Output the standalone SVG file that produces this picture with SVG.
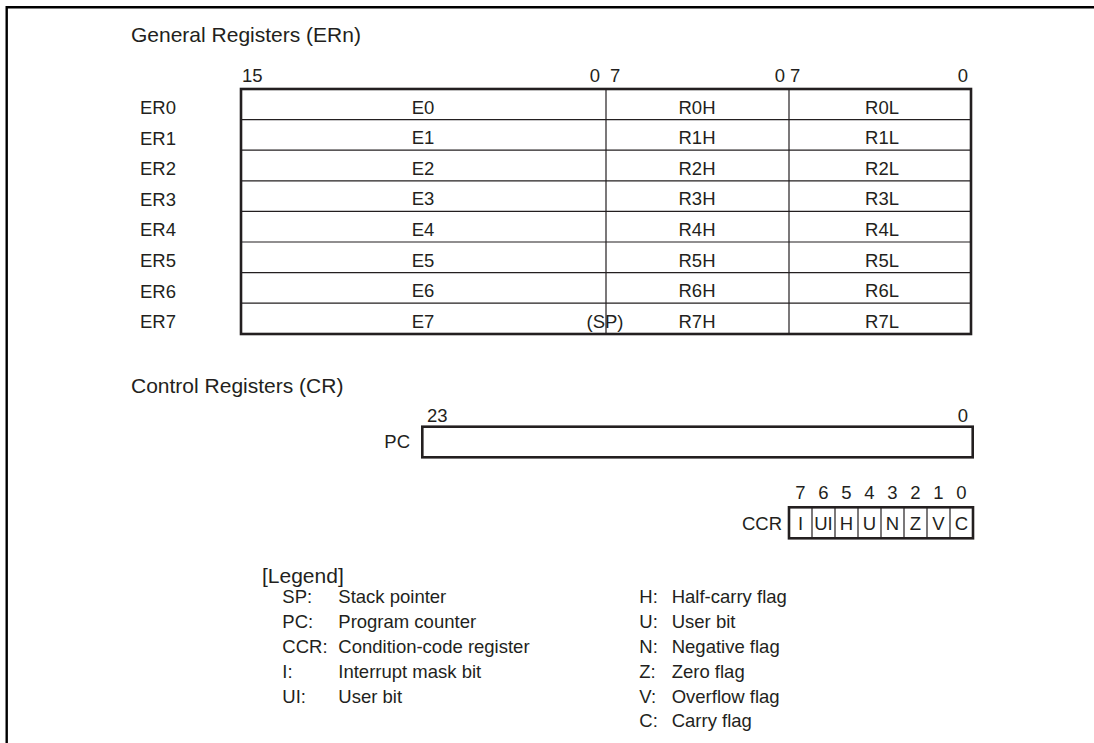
<svg xmlns="http://www.w3.org/2000/svg" width="1094" height="743" viewBox="0 0 1094 743">
<style>
text{font-family:"Liberation Sans",Arial,sans-serif;font-size:18.5px;fill:#231f20}
.t{font-size:21px}
.m{text-anchor:middle}
.e{text-anchor:end}
.thick{fill:none;stroke:#231f20;stroke-width:2.6}
.thin{fill:none;stroke:#231f20;stroke-width:1.2}
.frame{fill:none;stroke:#000;stroke-width:2.4}
</style>
<rect width="1094" height="743" fill="#fff"/>
<g id="frame"><polyline class="frame" points="6.7,743 6.7,7.3 1094,7.3"/></g>

<g id="general-title"><text class="t" x="131" y="41.5">General Registers (ERn)</text></g>
<g id="bit-labels-gr">
<text x="242" y="82">15</text>
<text x="600" y="82" class="e">0</text>
<text x="610" y="82">7</text>
<text x="785" y="82" class="e">0</text>
<text x="790" y="82">7</text>
<text x="968" y="82" class="e">0</text>
</g>

<g id="er-table">
<rect class="thick" x="241" y="89" width="730" height="245"/>
<g class="thin">
<line x1="241" y1="119.6" x2="971" y2="119.6"/>
<line x1="241" y1="150.2" x2="971" y2="150.2"/>
<line x1="241" y1="180.8" x2="971" y2="180.8"/>
<line x1="241" y1="211.4" x2="971" y2="211.4"/>
<line x1="241" y1="242" x2="971" y2="242"/>
<line x1="241" y1="272.6" x2="971" y2="272.6"/>
<line x1="241" y1="303.2" x2="971" y2="303.2"/>
<line x1="606" y1="89" x2="606" y2="334"/>
<line x1="789" y1="89" x2="789" y2="334"/>
</g>
</g>

<g id="er-rows">
<g id="ER0"><text x="140" y="114">ER0</text><text class="m" x="423" y="113.5">E0</text><text class="m" x="697" y="113.5">R0H</text><text class="m" x="882" y="113.5">R0L</text></g>
<g id="ER1"><text x="140" y="144.6">ER1</text><text class="m" x="423" y="144.1">E1</text><text class="m" x="697" y="144.1">R1H</text><text class="m" x="882" y="144.1">R1L</text></g>
<g id="ER2"><text x="140" y="175.2">ER2</text><text class="m" x="423" y="174.7">E2</text><text class="m" x="697" y="174.7">R2H</text><text class="m" x="882" y="174.7">R2L</text></g>
<g id="ER3"><text x="140" y="205.8">ER3</text><text class="m" x="423" y="205.3">E3</text><text class="m" x="697" y="205.3">R3H</text><text class="m" x="882" y="205.3">R3L</text></g>
<g id="ER4"><text x="140" y="236.4">ER4</text><text class="m" x="423" y="235.9">E4</text><text class="m" x="697" y="235.9">R4H</text><text class="m" x="882" y="235.9">R4L</text></g>
<g id="ER5"><text x="140" y="267">ER5</text><text class="m" x="423" y="266.5">E5</text><text class="m" x="697" y="266.5">R5H</text><text class="m" x="882" y="266.5">R5L</text></g>
<g id="ER6"><text x="140" y="297.6">ER6</text><text class="m" x="423" y="297.1">E6</text><text class="m" x="697" y="297.1">R6H</text><text class="m" x="882" y="297.1">R6L</text></g>
<g id="ER7"><text x="140" y="328.2">ER7</text><text class="m" x="423" y="327.7">E7</text><text class="m" x="605" y="327.7">(SP)</text><text class="m" x="697" y="327.7">R7H</text><text class="m" x="882" y="327.7">R7L</text></g>
</g>

<g id="control-title"><text class="t" x="131" y="393">Control Registers (CR)</text></g>

<g id="PC">
<text x="427" y="421.7">23</text>
<text x="968" y="421.7" class="e">0</text>
<text x="410" y="448.3" class="e">PC</text>
<rect class="thick" x="422.3" y="426.7" width="550.4" height="30.6"/>
</g>

<g id="CCR">
<text class="m" x="800.4" y="499.3">7</text>
<text class="m" x="823.4" y="499.3">6</text>
<text class="m" x="846.4" y="499.3">5</text>
<text class="m" x="869.4" y="499.3">4</text>
<text class="m" x="892.4" y="499.3">3</text>
<text class="m" x="915.4" y="499.3">2</text>
<text class="m" x="938.4" y="499.3">1</text>
<text class="m" x="961.4" y="499.3">0</text>
<text x="782" y="530" class="e">CCR</text>
<rect class="thick" x="789" y="507.3" width="184" height="31"/>
<g class="thin">
<line x1="812" y1="507.3" x2="812" y2="538.3"/>
<line x1="835" y1="507.3" x2="835" y2="538.3"/>
<line x1="858" y1="507.3" x2="858" y2="538.3"/>
<line x1="881" y1="507.3" x2="881" y2="538.3"/>
<line x1="904" y1="507.3" x2="904" y2="538.3"/>
<line x1="927" y1="507.3" x2="927" y2="538.3"/>
<line x1="950" y1="507.3" x2="950" y2="538.3"/>
</g>
<text class="m" x="800.5" y="530">I</text>
<text class="m" x="823.5" y="530">UI</text>
<text class="m" x="846.5" y="530">H</text>
<text class="m" x="869.5" y="530">U</text>
<text class="m" x="892.5" y="530">N</text>
<text class="m" x="915.5" y="530">Z</text>
<text class="m" x="938.5" y="530">V</text>
<text class="m" x="961.5" y="530">C</text>
</g>

<g id="legend">
<text class="t" x="262" y="582.5">[Legend]</text>
<text x="282.3" y="603.3">SP:</text><text x="338.3" y="603.3">Stack pointer</text>
<text x="282.3" y="628.1">PC:</text><text x="338.3" y="628.1">Program counter</text>
<text x="282.3" y="652.9">CCR:</text><text x="338.3" y="652.9">Condition-code register</text>
<text x="282.3" y="677.7">I:</text><text x="338.3" y="677.7">Interrupt mask bit</text>
<text x="282.3" y="702.5">UI:</text><text x="338.3" y="702.5">User bit</text>
<text x="639.3" y="603.3">H:</text><text x="671.7" y="603.3">Half-carry flag</text>
<text x="639.3" y="628.1">U:</text><text x="671.7" y="628.1">User bit</text>
<text x="639.3" y="652.9">N:</text><text x="671.7" y="652.9">Negative flag</text>
<text x="639.3" y="677.7">Z:</text><text x="671.7" y="677.7">Zero flag</text>
<text x="639.3" y="702.5">V:</text><text x="671.7" y="702.5">Overflow flag</text>
<text x="639.3" y="727.3">C:</text><text x="671.7" y="727.3">Carry flag</text>
</g>
</svg>
